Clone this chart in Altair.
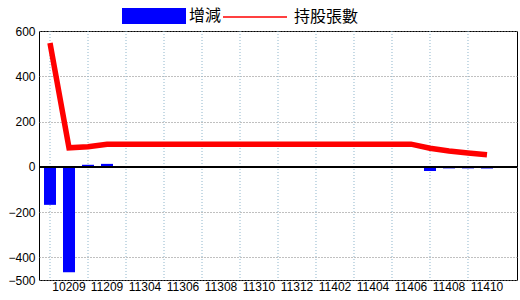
import altair as alt
import pandas as pd

# x categories (year-month, ROC calendar); the last slot is empty on the axis
categories = ["10109", "10209", "11109", "11209", "11303", "11304", "11305", "11306",
              "11307", "11308", "11309", "11310", "11311", "11312", "11401", "11402",
              "11403", "11404", "11405", "11406", "11407", "11408", "11409", "11410",
              "11411"]
change_values = [-168, -466, 9, 13, 0, 0, 0, 0, 0, 0, 0, 0, 0, 0, 0, 0,
                 0, 0, 0, 0, -18, -7, -7, -7]
holding_values = [547, 84, 89, 100, 100, 100, 100, 100, 100, 100, 100, 100, 100, 100, 100, 100,
                  100, 100, 100, 100, 82, 70, 61, 53]
x_labels = ["10209", "11209", "11304", "11306", "11308", "11310", "11312",
            "11402", "11404", "11406", "11408", "11410"]
y_ticks = [600, 400, 200, 0, -200, -400, -500]
grid_categories = categories[0:23:2]

n = len(change_values)
df = pd.DataFrame({
    "月份": categories[:n],
    "增減值": change_values,
    "持股張數值": holding_values,
    "s1": ["增減"] * n,
    "s2": ["持股張數"] * n,
})
grid_df = pd.DataFrame({"月份": grid_categories})

FONT = "Liberation Sans"
CJK = "Noto Sans CJK TC"

xscale = alt.Scale(domain=categories, paddingInner=0.368, paddingOuter=0.263)
yscale = alt.Scale(domain=[-500, 600], nice=False, zero=False)

xaxis = alt.Axis(values=x_labels, labelAngle=0, ticks=False, domain=False, grid=False,
                 labelFont=FONT, labelFontSize=12, labelColor="black", labelPadding=1,
                 title=None)
yaxis = alt.Axis(values=y_ticks, ticks=False, domain=False, grid=True,
                 gridColor="#808080", gridDash=[1, 2], gridOpacity=1,
                 labelFont=FONT, labelFontSize=12, labelColor="black", labelPadding=4,
                 title=None)

vgrid = alt.Chart(grid_df).mark_rule(color="#8fb6cc", strokeDash=[1, 2], strokeWidth=1).encode(
    x=alt.X("月份:N", scale=xscale, axis=xaxis, sort=categories),
)

bars = alt.Chart(df).mark_bar(strokeWidth=0).encode(
    x=alt.X("月份:N", scale=xscale, axis=xaxis, sort=categories),
    y=alt.Y("增減值:Q", scale=yscale, axis=yaxis),
    fill=alt.Fill("s1:N", scale=alt.Scale(domain=["增減"], range=["#0000ff"]),
                  legend=alt.Legend(title=None, orient="none", legendX=83, legendY=-47,
                                    symbolType="M-1,-0.25H1V0.25H-1Z", symbolSize=4096,
                                    symbolStrokeWidth=0, labelFont=CJK, labelFontSize=16,
                                    labelColor="black", labelOffset=3, padding=0)),
)

zero = alt.Chart(df).mark_rule(color="black", strokeWidth=1).encode(y=alt.datum(0))

line = alt.Chart(df).mark_line(strokeWidth=5.5).encode(
    x=alt.X("月份:N", scale=xscale, axis=xaxis, sort=categories),
    y=alt.Y("持股張數值:Q", scale=yscale, axis=yaxis),
    stroke=alt.Stroke("s2:N", scale=alt.Scale(domain=["持股張數"], range=["#ff0000"]),
                      legend=alt.Legend(title=None, orient="none", legendX=183, legendY=-47,
                                        symbolType="stroke", symbolSize=4096,
                                        symbolStrokeWidth=1.5, labelFont=CJK, labelFontSize=16,
                                        labelColor="black", labelOffset=6, padding=0)),
)

chart = alt.layer(vgrid, bars, zero, line).properties(
    width=478, height=249,
    background="white",
    autosize=alt.AutoSizeParams(type="none"),
    padding={"left": 39, "top": 31, "right": 3, "bottom": 20},
).configure_view(stroke="black", strokeWidth=1)

chart.save("out.html", embed_options={"renderer": "svg", "actions": False})
